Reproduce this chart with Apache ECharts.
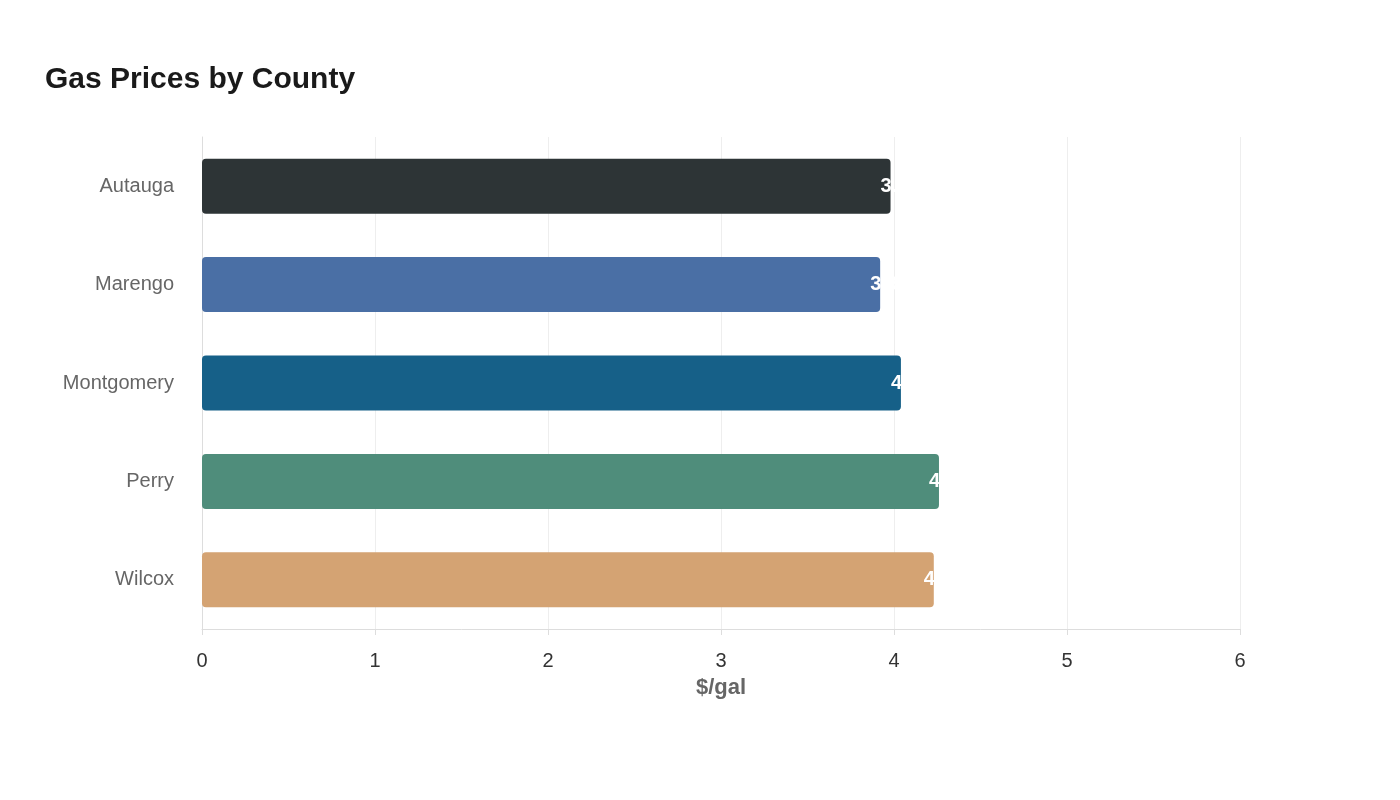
<!DOCTYPE html>
<html>
<head>
    <meta charset="utf-8">
    <script src="https://cdn.jsdelivr.net/npm/echarts@6/dist/echarts.min.js"></script>
</head>
<body style="margin:0">
    <div id="main" style="width:1400px;height:800px;"></div>
    <script type="text/javascript">
        var counties = ['Autauga', 'Marengo', 'Montgomery', 'Perry', 'Wilcox'];
        var prices = [3.98, 3.92, 4.04, 4.26, 4.23];
        var colors = ['#2d3436', '#4a6fa5', '#166088', '#4f8d7b', '#d4a373'];

        var myChart = echarts.init(document.getElementById('main'));
        var option = {
            backgroundColor: '#ffffff',
            textStyle: { fontFamily: 'Liberation Sans, Arial, sans-serif' },
            title: {
                text: 'Gas Prices by County',
                left: 40,
                top: 60,
                textStyle: { fontSize: 30, fontWeight: 'bold', color: '#1a1a1a' }
            },
            grid: { left: 202, right: 160, top: 137, bottom: 171 },
            xAxis: {
                type: 'value',
                min: 0,
                max: 6,
                interval: 1,
                name: '$/gal',
                nameLocation: 'middle',
                nameGap: 48,
                nameTextStyle: { fontSize: 22, fontWeight: 'bold', color: '#666' },
                axisLine: { show: true, lineStyle: { color: '#ddd' } },
                axisTick: { show: true, length: 6, lineStyle: { color: '#ddd' } },
                axisLabel: { fontSize: 20, color: '#333', margin: 22 },
                splitLine: { lineStyle: { color: '#eee' } }
            },
            yAxis: {
                type: 'category',
                data: counties,
                inverse: true,
                axisLine: { lineStyle: { color: '#ddd' } },
                axisTick: { show: false },
                axisLabel: { fontSize: 20, color: '#666', margin: 28 }
            },
            series: [{
                type: 'bar',
                barWidth: 55,
                data: prices.map(function (v, i) {
                    return { value: v, itemStyle: { color: colors[i] } };
                }),
                itemStyle: { borderRadius: 4 },
                label: {
                    show: true,
                    position: 'right',
                    distance: -10,
                    color: '#fff',
                    fontSize: 20,
                    fontWeight: 'bold'
                }
            }]
        };
        myChart.setOption(option);
    </script>
</body>
</html>
